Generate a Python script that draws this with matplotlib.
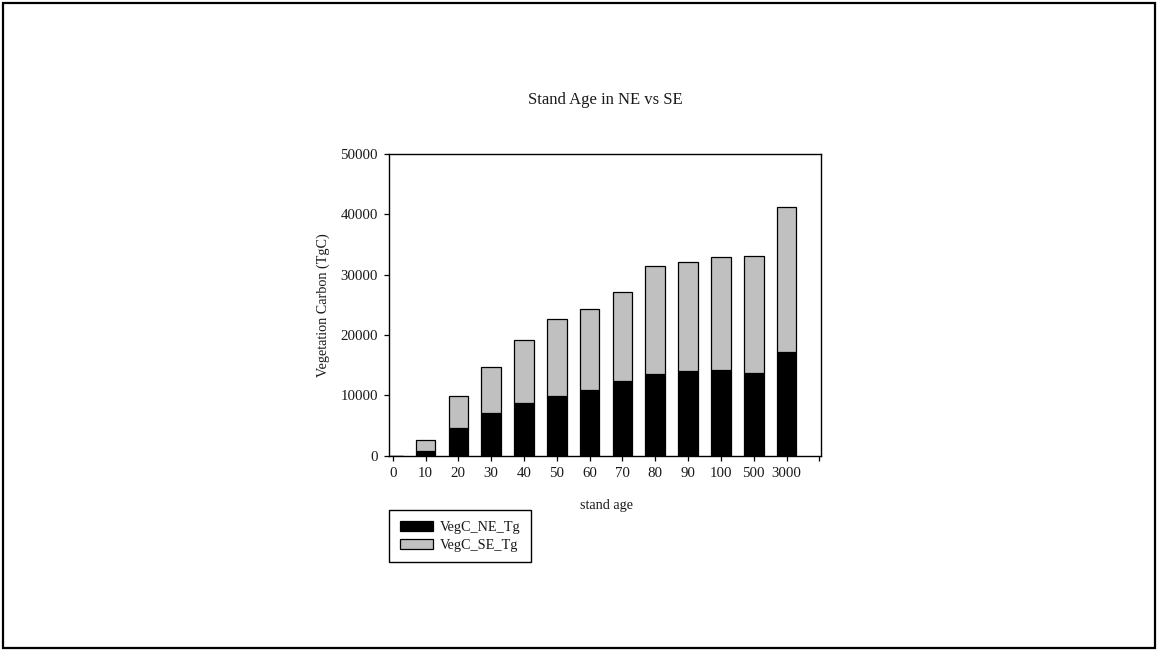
import matplotlib
matplotlib.use("Agg")
import matplotlib.pyplot as plt
import numpy as np
from matplotlib.patches import Rectangle

plt.rcParams['font.family'] = ['Liberation Serif', 'DejaVu Serif']

# Data
stand_age = ["0", "10", "20", "30", "40", "50", "60", "70", "80", "90", "100", "500", "3000"]
vegc_ne_tg = [0, 720, 4520, 7050, 8810, 9860, 10960, 12450, 13550, 14040, 14260, 13770, 17130]
vegc_total = [0, 2640, 9970, 14760, 19220, 22630, 24340, 27200, 31500, 32160, 32880, 33150, 41190]
vegc_se_tg = [t - n for t, n in zip(vegc_total, vegc_ne_tg)]

W, H = 1157, 650
fig = plt.figure(figsize=(W / 100, H / 100), dpi=100)
fig.patch.set_facecolor("white")

# outer frame
fig.patches.append(Rectangle((3 / W, 2 / H), (1155 - 3) / W, (647 - 2) / H,
                             transform=fig.transFigure, fill=False,
                             edgecolor="black", linewidth=1.6, zorder=10))

ax = fig.add_axes([389.3 / W, 1 - 455.7 / H, (821 - 389.3) / W, (455.7 - 154) / H])

x = np.arange(len(stand_age))
b1 = ax.bar(x, vegc_ne_tg, width=0.6, color="black", edgecolor="black",
            linewidth=0.9, label="VegC_NE_Tg")
b2 = ax.bar(x, vegc_se_tg, width=0.6, bottom=vegc_ne_tg, color="#c0c0c0",
            edgecolor="black", linewidth=0.9, label="VegC_SE_Tg")

ax.set_xlim(-0.104, 13.05)
ax.set_ylim(0, 50000)
ax.set_yticks([0, 10000, 20000, 30000, 40000, 50000])
ax.set_xticks(np.arange(len(stand_age) + 1))
ax.set_xticklabels(stand_age + [""])

for s in ax.spines.values():
    s.set_linewidth(1.0)
ax.tick_params(axis="both", direction="out", length=3.8, width=0.9,
               labelsize=10.7, pad=4.5, colors="black", labelcolor="#1a1a1a")
ax.tick_params(top=False, right=False)

ax.set_xlabel("stand age", fontsize=10.2, color="#1a1a1a")
ax.xaxis.set_label_coords((606.7 - 389.3) / 431.7, (455.7 - 505) / 301.7)
ax.xaxis.label.set_va("center")
ax.set_ylabel("Vegetation Carbon (TgC)", fontsize=10.2, color="#1a1a1a")
ax.yaxis.set_label_coords((322.8 - 389.3) / 431.7, (455.7 - 304.7) / 301.7)
ax.yaxis.label.set_va("center")

fig.text(605 / W, 1 - 100 / H, "Stand Age in NE vs SE", ha="center", va="center",
         fontsize=12, color="#1a1a1a")

leg = fig.legend(handles=[b1, b2], loc="upper left",
                 bbox_to_anchor=(389 / W, 1 - 510 / H), borderaxespad=0,
                 fontsize=10.3, frameon=True, fancybox=False, shadow=False,
                 handlelength=2.3, handleheight=0.7, handletextpad=0.5,
                 borderpad=0.75, labelspacing=0.35)
leg.get_frame().set_edgecolor("black")
leg.get_frame().set_linewidth(1.0)
leg.get_frame().set_alpha(1)
for t in leg.get_texts():
    t.set_color("#1a1a1a")

fig.savefig("out.png", dpi=100)
